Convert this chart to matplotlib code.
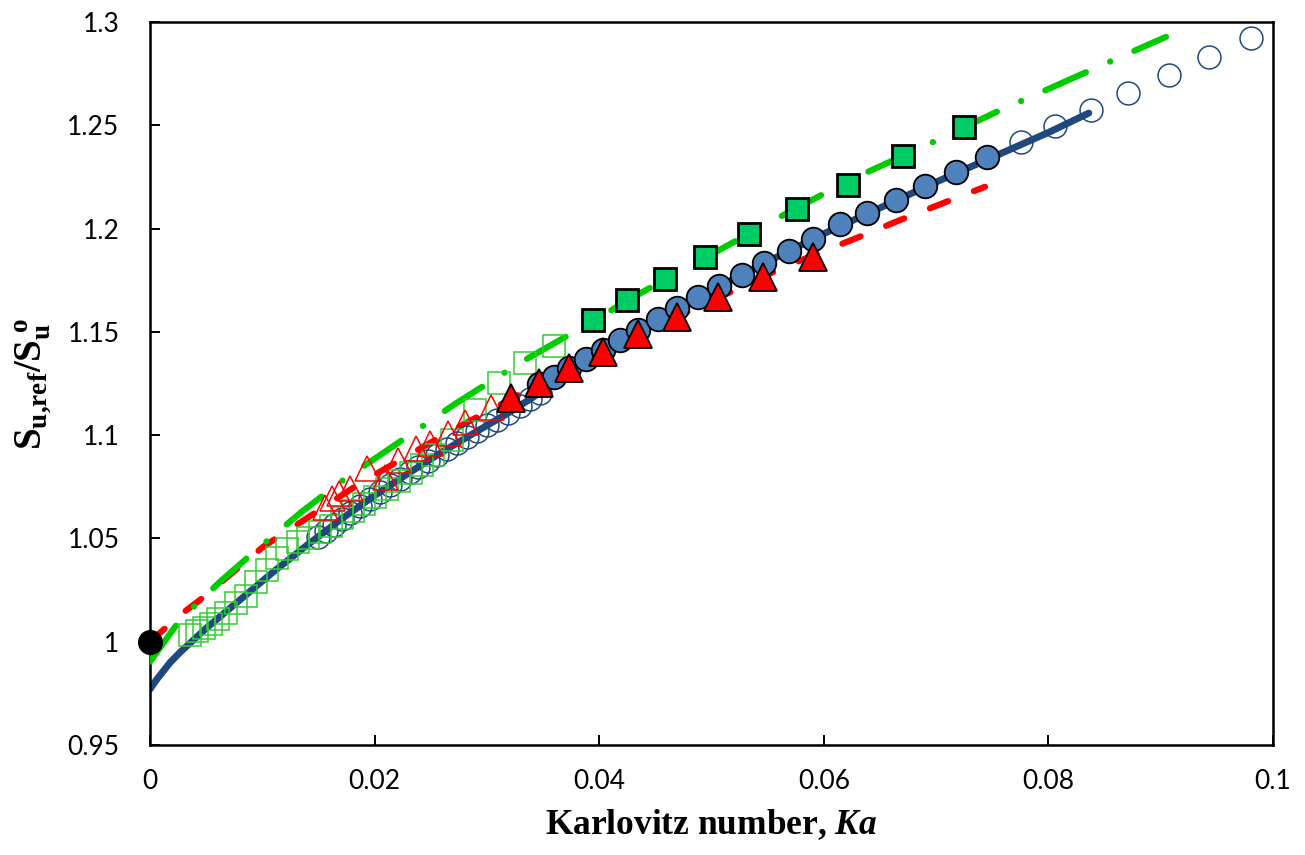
import matplotlib
matplotlib.use('Agg')
import matplotlib.pyplot as plt
from matplotlib.ticker import FuncFormatter, MultipleLocator

# ---- data (Ka, S_u,ref / S_u^o) ----
line_ka = [0, 0.0005, 0.001, 0.0018, 0.0027, 0.0036, 0.005, 0.008, 0.011, 0.014, 0.017, 0.020, 0.023,
           0.026, 0.029, 0.032, 0.035, 0.040, 0.045, 0.050, 0.055, 0.060, 0.065, 0.070, 0.075, 0.080, 0.0836]
line_s = [0.9770, 0.9810, 0.9845, 0.9900, 0.9950, 0.9995, 1.0065, 1.0202, 1.0339, 1.0468, 1.0592, 1.0708, 1.0815,
          1.0918, 1.1015, 1.1110, 1.1215, 1.1405, 1.1555, 1.1700, 1.1840, 1.1975, 1.2100, 1.2225, 1.2345, 1.2465, 1.2559]

red_ka = [0, 0.00267, 0.00445, 0.01009, 0.01484, 0.01870, 0.02642, 0.03028, 0.0400, 0.0500,
          0.05639, 0.06263, 0.06679, 0.07094, 0.07435]
red_s = [1.0000, 1.0129, 1.0202, 1.0460, 1.0629, 1.0767, 1.1009, 1.1121, 1.1404, 1.1650,
         1.1812, 1.1948, 1.2041, 1.2130, 1.2202]

green_ka = [0, 0.00267, 0.00623, 0.00964, 0.01351, 0.01721, 0.02137, 0.02508, 0.02716, 0.03310,
            0.03755, 0.04363, 0.05203, 0.05670, 0.06233, 0.06916, 0.07554, 0.08014, 0.08430, 0.09047]
green_s = [0.9903, 1.0105, 1.0290, 1.0452, 1.0629, 1.0783, 1.0936, 1.1073, 1.1151, 1.1355,
           1.1493, 1.1686, 1.1936, 1.2074, 1.2235, 1.2404, 1.2569, 1.2679, 1.2780, 1.2928]

circ_open_ka = [0.01496, 0.01567, 0.01638, 0.01710, 0.01781, 0.01870, 0.01959, 0.02048, 0.02137, 0.02226,
                0.02315, 0.02386, 0.02476, 0.02556, 0.02645, 0.02734, 0.02823, 0.02912, 0.03001, 0.03090,
                0.03188, 0.03295, 0.03384, 0.03473,
                0.0776, 0.0806, 0.0838, 0.0871, 0.0907, 0.0943, 0.0980]
circ_open_s = [1.0508, 1.0537, 1.0566, 1.0596, 1.0623, 1.0658, 1.0692, 1.0725, 1.0757, 1.0789,
               1.0820, 1.0845, 1.0876, 1.0904, 1.0933, 1.0961, 1.0990, 1.1019, 1.1047, 1.1075,
               1.1106, 1.1143, 1.1174, 1.1205,
               1.2420, 1.2496, 1.2574, 1.2656, 1.2742, 1.2830, 1.2921]

circ_ka = [0.03467, 0.03598, 0.03734, 0.03882, 0.04031, 0.04185, 0.04348, 0.04521, 0.04695, 0.04883,
           0.05070, 0.05269, 0.05470, 0.05690, 0.05907, 0.06144, 0.06387, 0.06640, 0.06901, 0.07177, 0.07456]
circ_s = [1.1247, 1.1280, 1.1323, 1.1368, 1.1412, 1.1460, 1.1509, 1.1561, 1.1614, 1.1667,
          1.1722, 1.1775, 1.1832, 1.1891, 1.1949, 1.2022, 1.2075, 1.2138, 1.2206, 1.2273, 1.2345]

tri_open_ka = [0.01558, 0.01621, 0.01683, 0.01781, 0.01932, 0.02093, 0.02208, 0.02369, 0.02493,
               0.02654, 0.02805, 0.03037]
tri_open_s = [1.0652, 1.0696, 1.0720, 1.0744, 1.0841, 1.0797, 1.0879, 1.0938, 1.0962,
              1.1010, 1.1063, 1.1136]

tri_ka = [0.03213, 0.03464, 0.03734, 0.04031, 0.04348, 0.04690, 0.05061, 0.05462, 0.05901]
tri_s = [1.1178, 1.1254, 1.1323, 1.1404, 1.1489, 1.1573, 1.1667, 1.1764, 1.1864]

sq_open_ka = [0.00356, 0.00419, 0.00481, 0.00543, 0.00606, 0.00677, 0.00766, 0.00855, 0.00944, 0.01042,
              0.01131, 0.01220, 0.01318, 0.01407, 0.01514, 0.01612, 0.01710, 0.01808, 0.01906, 0.02004,
              0.02110, 0.02217, 0.02324, 0.02422, 0.02520, 0.02689, 0.02894, 0.03108, 0.03339, 0.03598]
sq_open_s = [1.0032, 1.0052, 1.0066, 1.0086, 1.0110, 1.0139, 1.0187, 1.0221, 1.0289, 1.0347,
             1.0405, 1.0449, 1.0483, 1.0502, 1.0531, 1.0560, 1.0599, 1.0633, 1.0666, 1.0700,
             1.0739, 1.0778, 1.0817, 1.0855, 1.0904, 1.0976, 1.1122, 1.1252, 1.1349, 1.1431]

sq_ka = [0.03942, 0.04251, 0.04586, 0.04945, 0.05337, 0.05759, 0.06215, 0.06705, 0.07249]
sq_s = [1.1557, 1.1654, 1.1754, 1.1861, 1.1973, 1.2093, 1.2211, 1.2349, 1.2490]

ref_ka = [0.0]
ref_s = [1.0]

plt.rcParams['lines.scale_dashes'] = False
plt.rcParams['mathtext.fontset'] = 'custom'
plt.rcParams['mathtext.rm'] = 'Liberation Serif'
plt.rcParams['mathtext.bf'] = 'Liberation Serif:bold'
plt.rcParams['mathtext.it'] = 'Liberation Serif:italic:bold'

navy = '#1F497D'

fig = plt.figure(figsize=(13.05, 8.55), dpi=100)
ax = fig.add_axes([150 / 1305, 110 / 855, 1123 / 1305, 723 / 855])

# lines
ax.plot(line_ka, line_s, color=navy, lw=5, solid_capstyle='round', solid_joinstyle='round', zorder=2)
ax.plot(red_ka, red_s, color='#FF0000', lw=4.5, linestyle=(0, (14, 20)),
        dash_capstyle='round', zorder=3)
ax.plot(green_ka, green_s, color='#00CC00', lw=4.5, linestyle=(0, (32, 19, 0.1, 19)),
        dash_capstyle='round', zorder=4)

# open markers
ax.plot(circ_open_ka, circ_open_s, 'o', ms=16.5, mfc='none', mec=navy, mew=1.1, zorder=5)
ax.plot(sq_open_ka, sq_open_s, 's', ms=16, mfc='none', mec='#33CC33', mew=1.1, zorder=6)
ax.plot(tri_open_ka, tri_open_s, '^', ms=18, mfc='none', mec='#FF0000', mew=1.1, zorder=6)

# filled markers
ax.plot(circ_ka, circ_s, 'o', ms=17, mfc='#4F81BD', mec='black', mew=1.3, zorder=7)
ax.plot(tri_ka, tri_s, '^', ms=20, mfc='#FF0000', mec='black', mew=1.3, zorder=8)
ax.plot(sq_ka, sq_s, 's', ms=16.5, mfc='#00CC66', mec='black', mew=2, zorder=8)
ax.plot(ref_ka, ref_s, 'o', ms=17, mfc='black', mec='black', zorder=9, clip_on=False)

ax.set_xlim(0, 0.1)
ax.set_ylim(0.95, 1.3)
ax.xaxis.set_major_locator(MultipleLocator(0.02))
ax.yaxis.set_major_locator(MultipleLocator(0.05))
fmt = FuncFormatter(lambda v, p: '%g' % round(v, 4))
ax.xaxis.set_major_formatter(fmt)
ax.yaxis.set_major_formatter(fmt)

for s in ax.spines.values():
    s.set_linewidth(1.8)
ax.tick_params(axis='both', direction='in', length=7, width=1.4, labelsize=19)
ax.tick_params(axis='x', pad=17)
ax.tick_params(axis='y', pad=22)
for lab in ax.get_xticklabels() + ax.get_yticklabels():
    lab.set_family(['Lato', 'DejaVu Sans'])

ax.set_xlabel('Karlovitz number, $\\mathit{Ka}$', family='Liberation Serif',
              fontweight='bold', fontsize=25.5, labelpad=10)
ax.set_ylabel('$\\mathbf{S_{u{,}ref}/S_u^{\\ o}}$', fontsize=28, labelpad=10)

fig.savefig('out.png', dpi=100)
